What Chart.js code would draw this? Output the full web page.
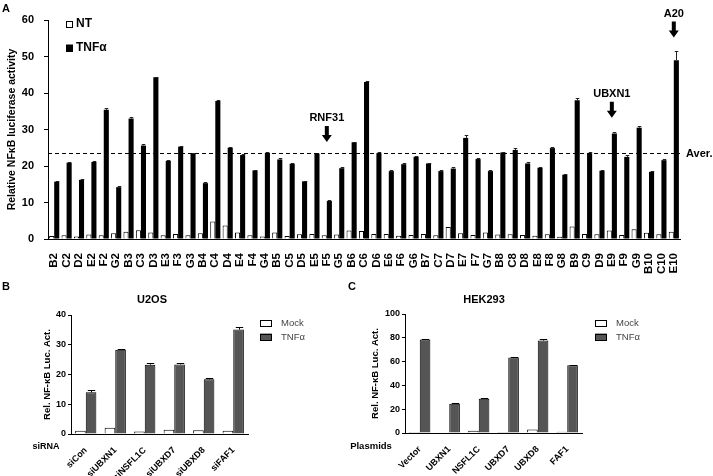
<!DOCTYPE html>
<html lang="en">
<head>
<meta charset="UTF-8">
<title>NF-kB luciferase screen</title>
<script src="https://cdnjs.cloudflare.com/ajax/libs/Chart.js/4.4.0/chart.umd.min.js"></script>
<style>
  body { margin: 0; background: #fff; font-family: "Liberation Sans", Arial, sans-serif; }
  #wrap { position: relative; width: 713px; height: 476px; overflow: hidden; }
  canvas { position: absolute; }
  .lbl { position: absolute; font-weight: bold; color: #000; white-space: nowrap; line-height: 1; }
  .mid { transform: translate(-50%, -50%); }
</style>
</head>
<body>
<div id="wrap">
  <canvas id="chartA" width="713" height="280" style="left:0;top:0"></canvas>
  <canvas id="chartB" width="355" height="196" style="left:0;top:280px"></canvas>
  <canvas id="chartC" width="358" height="196" style="left:355px;top:280px"></canvas>

  <div class="lbl" style="left:2px;top:3px;font-size:11px">A</div>
  <div class="lbl" style="left:2px;top:281px;font-size:11px">B</div>
  <div class="lbl" style="left:348px;top:281px;font-size:11px">C</div>
  <div class="lbl mid" style="left:152px;top:299px;font-size:11px">U2OS</div>
  <div class="lbl mid" style="left:484px;top:299px;font-size:11px">HEK293</div>
  <div class="lbl mid" style="left:46px;top:446px;font-size:9px">siRNA</div>
  <div class="lbl mid" style="left:371px;top:446px;font-size:9.5px">Plasmids</div>
</div>

<script>
    // Panel A: siRNA screen, wells on the plate
    const screenWells = ['B2','C2','D2','E2','F2','G2','B3','C3','D3','E3','F3','G3',
        'B4','C4','D4','E4','F4','G4','B5','C5','D5','E5','F5','G5',
        'B6','C6','D6','E6','F6','G6','B7','C7','D7','E7','F7','G7',
        'B8','C8','D8','E8','F8','G8','B9','C9','D9','E9','F9','G9',
        'B10','C10','E10'];
    const ntValues = [0.8,1.0,0.7,1.2,1.0,1.6,2.0,2.4,1.8,1.0,1.4,1.0,
        1.6,4.8,3.7,1.8,1.0,0.7,1.8,0.8,1.3,1.4,1.0,1.2,
        2.3,2.2,1.4,1.4,0.9,1.1,1.4,1.0,3.3,1.6,1.1,1.8,
        1.2,1.3,1.1,0.9,1.3,0.6,3.4,1.4,1.3,2.3,1.1,2.7,
        1.7,1.3,2.0];
    const tnfValues = [15.7,20.9,16.2,21.1,35.4,14.2,33.0,25.6,44.3,21.4,25.3,23.3,
        15.3,37.8,25.0,23.0,18.8,23.6,21.8,20.6,15.8,23.3,10.4,19.4,
        26.5,43.0,23.5,18.6,20.5,22.5,20.7,18.6,19.3,27.7,21.9,18.6,
        23.7,24.4,20.7,19.5,24.9,17.6,38.0,23.5,18.7,28.9,22.5,30.5,
        18.4,21.6,49.0];
    const tnfErrors = [0.2,0.2,0.2,0.2,0.5,0.2,0.4,0.5,0.2,0.2,0.2,0.3,
        0.2,0.2,0.2,0.2,0.2,0.2,0.3,0.2,0.2,0.2,0.2,0.2,
        0.2,0.2,0.2,0.2,0.2,0.3,0.2,0.2,0.3,0.8,0.3,0.2,
        0.2,0.4,0.3,0.2,0.2,0.2,0.5,0.2,0.2,0.3,0.5,0.4,
        0.2,0.3,2.5];
    const screenAverage = 23.5;
    const hitWells = ['F5', 'E9', 'E10'];
    const hitNames = ['RNF31', 'UBXN1', 'A20'];
    const hitArrowTips = [26.6, 33.2, 55.2];

    // Panel B: U2OS knockdown
    const siLabels = ['siCon','siUBXN1','siNSFL1C','siUBXD7','siUBXD8','siFAF1'];
    const siMock = [1.1, 2.1, 0.8, 1.4, 1.3, 1.1];
    const siTnf = [14.0, 28.3, 23.3, 23.4, 18.4, 35.1];
    const siTnfErr = [0.7, 0.4, 0.5, 0.4, 0.3, 0.7];

    // Panel C: HEK293 overexpression
    const plasmidLabels = ['Vector','UBXN1','NSFL1C','UBXD7','UBXD8','FAF1'];
    const plasmidMock = [0.8, 0.7, 1.8, 0.9, 3.0, 1.0];
    const plasmidTnf = [78.6, 24.5, 28.7, 63.4, 77.7, 56.9];
    const plasmidTnfErr = [0.6, 0.5, 0.5, 0.4, 0.9, 0.4];

    const FONT = '"Liberation Sans", Arial, sans-serif';
    Chart.defaults.font.family = FONT;
    Chart.defaults.color = '#000';

    // error bars on top of bars that carry an errors array
    const errorBars = {
        id: 'errorBars',
        afterDatasetsDraw(chart) {
            const ctx = chart.ctx;
            const y = chart.scales.y;
            chart.data.datasets.forEach((ds, di) => {
                if (!ds.errors) return;
                const meta = chart.getDatasetMeta(di);
                ctx.save();
                ctx.strokeStyle = ds.errorColor || '#000';
                ctx.lineWidth = 1;
                meta.data.forEach((bar, i) => {
                    const err = ds.errors[i];
                    if (!err) return;
                    const top = Math.round(y.getPixelForValue(ds.data[i] + err)) + 0.5;
                    const cx = Math.round(bar.x) + 0.5;
                    const half = bar.width * 0.35;
                    ctx.beginPath();
                    ctx.moveTo(cx, bar.y);
                    ctx.lineTo(cx, top);
                    ctx.moveTo(cx - half, top);
                    ctx.lineTo(cx + half, top);
                    ctx.stroke();
                });
                ctx.restore();
            });
        }
    };

    // small legend drawn at a fixed spot
    const insetLegend = {
        id: 'insetLegend',
        afterDraw(chart, args, opts) {
            const ctx = chart.ctx;
            ctx.save();
            chart.data.datasets.forEach((ds, i) => {
                const bx = opts.x;
                const by = opts.y + i * opts.gap;
                ctx.fillStyle = ds.backgroundColor;
                ctx.fillRect(bx, by - opts.h / 2, opts.w, opts.h);
                ctx.strokeStyle = '#000';
                ctx.lineWidth = 1;
                ctx.strokeRect(bx + 0.5, Math.round(by - opts.h / 2) + 0.5, opts.w - 1, opts.h - 1);
                ctx.fillStyle = opts.color;
                ctx.font = opts.font;
                ctx.textBaseline = 'middle';
                ctx.textAlign = 'left';
                ctx.fillText(ds.label, bx + opts.w + opts.pad, by);
            });
            ctx.restore();
        }
    };

    // average line and arrows for the hits
    const screenNotes = {
        id: 'screenNotes',
        afterDraw(chart) {
            const { ctx, chartArea, scales: { x, y } } = chart;
            const yAvg = Math.round(y.getPixelForValue(screenAverage)) + 0.5;
            ctx.save();
            ctx.strokeStyle = '#000';
            ctx.lineWidth = 1;
            ctx.setLineDash([4, 3]);
            ctx.beginPath();
            ctx.moveTo(chartArea.left, yAvg);
            ctx.lineTo(chartArea.right, yAvg);
            ctx.stroke();
            ctx.setLineDash([]);
            ctx.fillStyle = '#000';
            ctx.font = 'bold 11px ' + FONT;
            ctx.textAlign = 'left';
            ctx.textBaseline = 'middle';
            ctx.fillText('Aver.', chartArea.right + 6, yAvg);

            hitWells.forEach((well, k) => {
                const cx = x.getPixelForValue(screenWells.indexOf(well));
                const tip = y.getPixelForValue(hitArrowTips[k]);
                ctx.beginPath();
                ctx.moveTo(cx - 2, tip - 16);
                ctx.lineTo(cx + 2, tip - 16);
                ctx.lineTo(cx + 2, tip - 7);
                ctx.lineTo(cx + 5, tip - 7);
                ctx.lineTo(cx, tip);
                ctx.lineTo(cx - 5, tip - 7);
                ctx.lineTo(cx - 2, tip - 7);
                ctx.closePath();
                ctx.fill();
                ctx.textAlign = 'center';
                ctx.textBaseline = 'alphabetic';
                ctx.font = 'bold 11px ' + FONT;
                ctx.fillText(hitNames[k], cx, tip - 21);
            });
            ctx.restore();
        }
    };

    function noPad(s) { s.paddingLeft = 0; s.paddingRight = 0; }

    // Panel A
    new Chart(document.getElementById('chartA'), {
        type: 'bar',
        data: {
            labels: screenWells,
            datasets: [
                { label: 'NT', data: ntValues, backgroundColor: '#fff', borderColor: '#000', borderWidth: 1 },
                { label: 'TNFα', data: tnfValues, backgroundColor: '#000', borderWidth: 0, errors: tnfErrors, errorColor: '#222' }
            ]
        },
        options: {
            responsive: false,
            animation: false,
            layout: { padding: { left: 2, top: 20, right: 33, bottom: 0 } },
            datasets: { bar: { categoryPercentage: 0.82, barPercentage: 1.0 } },
            plugins: {
                legend: { display: false },
                tooltip: { enabled: false },
                insetLegend: { x: 66, y: 24, gap: 24, w: 7, h: 7, pad: 3, font: 'bold 12px ' + FONT, color: '#000' }
            },
            scales: {
                x: {
                    grid: { display: false },
                    border: { color: '#000' },
                    ticks: { autoSkip: false, minRotation: 90, maxRotation: 90, padding: 6,
                        font: { weight: 'bold', size: 11.5 } },
                    afterFit: s => { s.height = 41; noPad(s); }
                },
                y: {
                    min: 0, max: 60,
                    ticks: { stepSize: 10, padding: 10, font: { weight: 'bold', size: 11 } },
                    grid: { drawOnChartArea: false, tickLength: 4, color: '#000' },
                    border: { color: '#000' },
                    title: { display: true, text: 'Relative NFκB luciferase activity',
                        font: { weight: 'bold', size: 10.5 } },
                    afterFit: s => { s.width = 46; }
                }
            }
        },
        plugins: [errorBars, insetLegend, screenNotes]
    });

    // Panels B and C share the same look
    function smallPanel(id, labels, mock, tnf, tnfErr, yMax, yStep, pad, yWidth, xHeight, legendX) {
        return new Chart(document.getElementById(id), {
            type: 'bar',
            data: {
                labels: labels,
                datasets: [
                    { label: 'Mock', data: mock, backgroundColor: '#fff', borderColor: '#000', borderWidth: 1 },
                    { label: 'TNFα', data: tnf, backgroundColor: '#555', borderColor: '#000', borderWidth: 1, errors: tnfErr }
                ]
            },
            options: {
                responsive: false,
                animation: false,
                layout: { padding: pad },
                datasets: { bar: { categoryPercentage: 0.72, barPercentage: 1.0 } },
                plugins: {
                    legend: { display: false },
                    tooltip: { enabled: false },
                    insetLegend: { x: legendX, y: 43, gap: 14, w: 12, h: 7, pad: 9, font: '9.5px ' + FONT, color: '#444' }
                },
                scales: {
                    x: {
                        grid: { display: false },
                        border: { color: '#000' },
                        ticks: { autoSkip: false, minRotation: 45, maxRotation: 45, padding: 3,
                            font: { weight: 'bold', size: 9 } },
                        afterFit: s => { s.height = xHeight; noPad(s); }
                    },
                    y: {
                        min: 0, max: yMax,
                        ticks: { stepSize: yStep, padding: 2, font: { weight: 'bold', size: 9 } },
                        grid: { drawOnChartArea: false, tickLength: 3, color: '#000' },
                        border: { color: '#000' },
                        title: { display: true, text: 'Rel. NF-κB Luc. Act.',
                            font: { weight: 'bold', size: 9.5 } },
                        afterFit: s => { s.width = yWidth; }
                    }
                }
            },
            plugins: [errorBars, insetLegend]
        });
    }

    smallPanel('chartB', siLabels, siMock, siTnf, siTnfErr, 40, 10,
        { left: 38, top: 35, right: 107, bottom: 0 }, 33, 42, 260);
    smallPanel('chartC', plasmidLabels, plasmidMock, plasmidTnf, plasmidTnfErr, 100, 20,
        { left: 11, top: 34, right: 131, bottom: 0 }, 39, 43, 240);
</script>
</body>
</html>
